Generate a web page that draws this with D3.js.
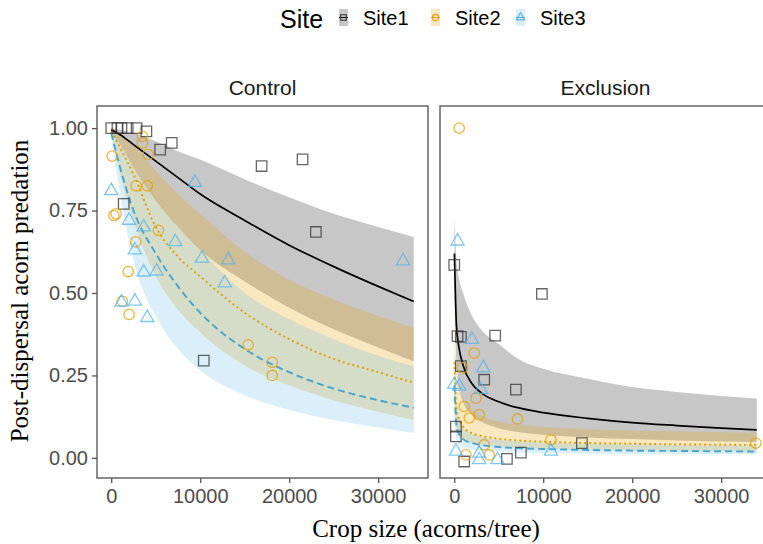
<!DOCTYPE html>
<html>
<head>
<meta charset="utf-8">
<script src="https://cdn.jsdelivr.net/npm/d3@7"></script>
<style>
  body { margin: 0; background: #fff; }
  text { font-family: "Liberation Sans", Arial, sans-serif; }
  .serif { font-family: "Liberation Serif", "Times New Roman", serif; }
</style>
</head>
<body>
<div id="chart"></div>
<script>
// Post-dispersal acorn predation vs crop size, by treatment and site

const sites = ["Site1", "Site2", "Site3"];
const panels = ["Control", "Exclusion"];
const xTicks = [0, 10000, 20000, 30000];
const yTicks = [0, 0.25, 0.5, 0.75, 1];

// fitted curves, Control panel
const ctrlX = [0, 1000, 2500, 5000, 7500, 10000, 15000, 20000, 25000, 30000, 34000];
const ctrlFit1 = [0.995, 0.98, 0.95, 0.90, 0.85, 0.80, 0.72, 0.645, 0.58, 0.52, 0.474];
const ctrlLo1 = [0.99, 0.95, 0.88, 0.78, 0.70, 0.63, 0.535, 0.455, 0.39, 0.335, 0.293];
const ctrlHi1 = [1.0, 0.995, 0.985, 0.96, 0.93, 0.905, 0.845, 0.79, 0.74, 0.70, 0.67];
const ctrlFit2 = [0.99, 0.94, 0.86, 0.70, 0.61, 0.55, 0.44, 0.36, 0.30, 0.26, 0.228];
const ctrlLo2 = [0.985, 0.86, 0.72, 0.55, 0.45, 0.38, 0.28, 0.22, 0.175, 0.14, 0.115];
const ctrlHi2 = [1.0, 0.985, 0.95, 0.87, 0.80, 0.74, 0.625, 0.54, 0.48, 0.43, 0.395];
const ctrlFit3 = [0.985, 0.88, 0.75, 0.62, 0.52, 0.44, 0.33, 0.26, 0.21, 0.175, 0.152];
const ctrlLo3 = [0.97, 0.80, 0.60, 0.43, 0.33, 0.265, 0.19, 0.145, 0.115, 0.092, 0.076];
const ctrlHi3 = [1.0, 0.95, 0.88, 0.78, 0.70, 0.63, 0.50, 0.42, 0.36, 0.31, 0.278];

// fitted curves, Exclusion panel
const exclX = [20, 250, 500, 1000, 2000, 3000, 5000, 7500, 10000, 15000, 20000, 25000, 30000, 34000];
const exclFit1 = [0.62, 0.40, 0.34, 0.28, 0.225, 0.198, 0.17, 0.15, 0.137, 0.12, 0.107, 0.098, 0.09, 0.085];
const exclLo1 = [0.50, 0.29, 0.22, 0.17, 0.13, 0.11, 0.09, 0.077, 0.07, 0.062, 0.057, 0.053, 0.05, 0.048];
const exclHi1 = [0.73, 0.60, 0.55, 0.50, 0.43, 0.39, 0.345, 0.295, 0.27, 0.24, 0.215, 0.2, 0.188, 0.18];
const exclFit2 = [0.29, 0.15, 0.12, 0.095, 0.075, 0.067, 0.058, 0.052, 0.049, 0.045, 0.043, 0.041, 0.04, 0.039];
const exclLo2 = [0.17, 0.085, 0.068, 0.055, 0.044, 0.039, 0.034, 0.03, 0.028, 0.025, 0.023, 0.022, 0.021, 0.02];
const exclHi2 = [0.45, 0.27, 0.22, 0.18, 0.145, 0.128, 0.11, 0.1, 0.094, 0.087, 0.083, 0.08, 0.078, 0.076];
const exclFit3 = [0.22, 0.10, 0.075, 0.057, 0.045, 0.039, 0.033, 0.029, 0.027, 0.024, 0.022, 0.021, 0.02, 0.019];
const exclLo3 = [0.12, 0.055, 0.042, 0.032, 0.025, 0.022, 0.019, 0.016, 0.015, 0.013, 0.012, 0.011, 0.011, 0.01];
const exclHi3 = [0.36, 0.16, 0.12, 0.093, 0.073, 0.064, 0.055, 0.05, 0.047, 0.043, 0.041, 0.039, 0.038, 0.037];

// observed points [crop size, predation]
const ctrlPts1 = [[0, 1.0], [700, 1.0], [1150, 1.0], [1850, 1.0], [2850, 1.0], [3950, 0.99], [5500, 0.935],
    [6800, 0.955], [1400, 0.77], [10400, 0.295], [16900, 0.885], [21500, 0.905], [23000, 0.685]];
const ctrlPts2 = [[3500, 0.975], [3500, 0.955], [4150, 0.92], [100, 0.915], [2800, 0.825], [4050, 0.825],
    [300, 0.735], [550, 0.74], [5300, 0.69], [2750, 0.655], [1900, 0.565], [1250, 0.475], [2000, 0.435],
    [15400, 0.343], [18100, 0.29], [18100, 0.25]];
const ctrlPts3 = [[0, 0.81], [9400, 0.835], [2000, 0.72], [3650, 0.70], [7200, 0.655], [2650, 0.63],
    [10200, 0.605], [13150, 0.60], [3650, 0.563], [5100, 0.566], [12750, 0.53], [1150, 0.472],
    [2650, 0.475], [4050, 0.425], [32800, 0.597]];
const exclPts1 = [[0, 0.585], [9850, 0.497], [370, 0.369], [750, 0.367], [4600, 0.371], [750, 0.278],
    [3370, 0.237], [6930, 0.207], [190, 0.095], [190, 0.065], [1120, -0.011], [5920, -0.003],
    [7490, 0.016], [14350, 0.045]];
const exclPts2 = [[560, 1.0], [2250, 0.318], [930, 0.273], [2440, 0.181], [1120, 0.156], [1690, 0.121],
    [2810, 0.131], [7110, 0.118], [3370, 0.04], [3930, 0.009], [10870, 0.055], [1310, 0.009], [33900, 0.045]];
const exclPts3 = [[370, 0.657], [1990, 0.359], [3260, 0.273], [3000, 0.207], [0, 0.222], [560, 0.217],
    [190, 0.02], [2810, 0.014], [2810, -0.006], [4870, -0.006], [10870, 0.02]];

const fits = {
    Control: [[ctrlFit1, ctrlLo1, ctrlHi1], [ctrlFit2, ctrlLo2, ctrlHi2], [ctrlFit3, ctrlLo3, ctrlHi3]],
    Exclusion: [[exclFit1, exclLo1, exclHi1], [exclFit2, exclLo2, exclHi2], [exclFit3, exclLo3, exclHi3]]
};
const grids = { Control: ctrlX, Exclusion: exclX };
const points = { Control: [ctrlPts1, ctrlPts2, ctrlPts3], Exclusion: [exclPts1, exclPts2, exclPts3] };

const fillCol = ["#000000", "#E69F00", "#56B4E9"];
const fillOp = [0.22, 0.25, 0.22];
const lineCol = ["#000000", "#DDA000", "#45A5D0"];
const lineDash = [null, "2,3", "7,4"];
const ptCol = ["#333333", "#E69F00", "#56B4E9"];
const shapes = [d3.symbolSquare, d3.symbolCircle, d3.symbolTriangle];
const shapeSize = [110, 85, 75];

const W = 763, H = 544;
const yTop = 106, yBot = 478;
const panelX = [[97, 428], [440, 771]];

const svg = d3.select("#chart").append("svg")
    .attr("width", W).attr("height", H)
    .style("background", "#fff");

const y = d3.scaleLinear().domain([-0.061, 1.067]).range([yBot, yTop]);

panels.forEach((name, pi) => {
    const [x0, x1] = panelX[pi];
    const x = d3.scaleLinear().domain([-1600, 35600]).range([x0, x1]);

    svg.append("clipPath").attr("id", "clip" + pi)
        .append("rect").attr("x", x0).attr("y", yTop).attr("width", x1 - x0).attr("height", yBot - yTop);

    const g = svg.append("g").attr("clip-path", `url(#clip${pi})`);
    const grid = grids[name];

    // ribbons
    fits[name].forEach((s, si) => {
        const rows = grid.map((v, k) => ({ x: v, fit: s[0][k], lo: s[1][k], hi: s[2][k] }));
        g.append("path")
            .datum(rows)
            .attr("d", d3.area().x(d => x(d.x)).y0(d => y(d.lo)).y1(d => y(d.hi)).curve(d3.curveMonotoneX))
            .attr("fill", fillCol[si])
            .attr("fill-opacity", fillOp[si]);
    });

    // fitted lines
    fits[name].forEach((s, si) => {
        const rows = grid.map((v, k) => ({ x: v, fit: s[0][k] }));
        g.append("path")
            .datum(rows)
            .attr("d", d3.line().x(d => x(d.x)).y(d => y(d.fit)).curve(d3.curveMonotoneX))
            .attr("fill", "none")
            .attr("stroke", lineCol[si])
            .attr("stroke-width", si === 0 ? 1.7 : 1.9)
            .attr("stroke-dasharray", lineDash[si]);
    });

    // points
    points[name].forEach((pts, si) => {
        g.selectAll(".pt" + si)
            .data(pts)
            .enter()
            .append("path")
            .attr("transform", d => `translate(${x(d[0])},${y(d[1])})`)
            .attr("d", d3.symbol().type(shapes[si]).size(shapeSize[si]))
            .attr("fill", "none")
            .attr("stroke", ptCol[si])
            .attr("stroke-opacity", 0.75)
            .attr("stroke-width", 1.3);
    });

    // border
    svg.append("rect")
        .attr("x", x0).attr("y", yTop)
        .attr("width", x1 - x0).attr("height", yBot - yTop)
        .attr("fill", "none").attr("stroke", "#666").attr("stroke-width", 1.5);

    // strip
    svg.append("text")
        .attr("x", (x0 + x1) / 2).attr("y", 95)
        .attr("text-anchor", "middle")
        .style("font-size", "21px").attr("fill", "#1a1a1a")
        .text(name);

    const xa = svg.append("g")
        .attr("transform", `translate(0,${yBot})`)
        .call(d3.axisBottom(x).tickValues(xTicks).tickSize(5).tickPadding(6).tickFormat(d3.format("d")));
    xa.select(".domain").remove();
    xa.selectAll("line").attr("stroke", "#555").attr("stroke-width", 1.3);
    xa.selectAll("text").style("font-size", "20px").attr("fill", "#4d4d4d");

    if (pi === 0) {
        const ya = svg.append("g")
            .attr("transform", `translate(${x0},0)`)
            .call(d3.axisLeft(y).tickValues(yTicks).tickSize(5).tickPadding(4).tickFormat(d3.format(".2f")));
        ya.select(".domain").remove();
        ya.selectAll("line").attr("stroke", "#555").attr("stroke-width", 1.3);
        ya.selectAll("text").style("font-size", "20px").attr("fill", "#4d4d4d");
    }
});

// axis titles
svg.append("text")
    .attr("class", "serif")
    .attr("x", 426).attr("y", 537)
    .attr("text-anchor", "middle")
    .style("font-size", "25px")
    .text("Crop size (acorns/tree)");

svg.append("text")
    .attr("class", "serif")
    .attr("transform", "translate(28,291) rotate(-90)")
    .attr("text-anchor", "middle")
    .style("font-size", "25px")
    .text("Post-dispersal acorn predation");

// legend
svg.append("text")
    .attr("x", 280).attr("y", 28)
    .style("font-size", "25px")
    .text("Site");

const keyX = [339, 431, 516];
sites.forEach((s, si) => {
    const kx = keyX[si];
    svg.append("rect")
        .attr("x", kx).attr("y", 9).attr("width", 9).attr("height", 17)
        .attr("fill", fillCol[si]).attr("fill-opacity", fillOp[si]);
    svg.append("line")
        .attr("x1", kx).attr("x2", kx + 9).attr("y1", 17.5).attr("y2", 17.5)
        .attr("stroke", lineCol[si]).attr("stroke-width", 1);
    svg.append("path")
        .attr("transform", `translate(${kx + 4.5},17.5)`)
        .attr("d", d3.symbol().type(shapes[si]).size(30))
        .attr("fill", "none").attr("stroke", ptCol[si]).attr("stroke-width", 1.1);
    svg.append("text")
        .attr("x", kx + 24).attr("y", 25)
        .style("font-size", "20px")
        .text(s);
});
</script>
</body>
</html>
